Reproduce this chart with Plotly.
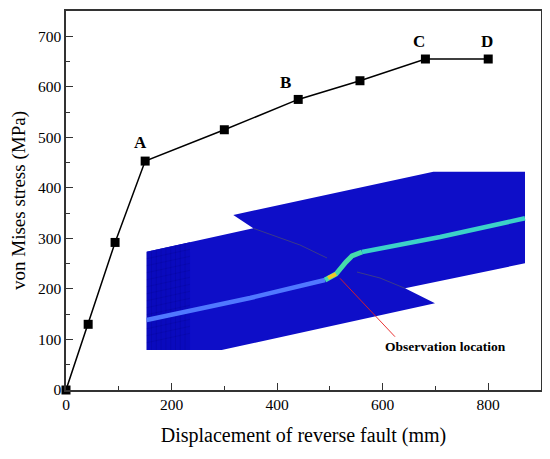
import plotly.graph_objects as go

# displacement (mm) vs von Mises stress (MPa)
displacement = [0, 42, 93, 150, 300, 440, 557, 681, 800]
stress = [0, 130, 292, 453, 515, 575, 612, 655, 655]

# labelled stages
stage_names = ["A", "B", "C", "D"]
stage_idx = [3, 5, 7, 8]
stage_shift = [(-5, 19), (-13, 17), (-6, 18), (-1, 18)]

xticks = [0, 200, 400, 600, 800]
yticks = [0, 100, 200, 300, 400, 500, 600, 700]

# page has an 8px body margin, so the figure is a bit smaller than the window
OFF = 8
W, H = 542, 451
L, T = 58, 3
PW, PH = 475, 379
R, B = W - L - PW, H - T - PH
SERIF = "Liberation Serif"


def px(x, y):
    # screen pixel -> paper coords, used for the inset drawing only
    return (x - OFF - L) / PW, (T + PH - (y - OFF)) / PH


def line_path(pts, close=False):
    s = ""
    for i, (x, y) in enumerate(pts):
        u, v = px(x, y)
        s += ("M" if i == 0 else "L") + f"{u:.4f},{v:.4f} "
    return s + ("Z" if close else "")


def deco(pts, color, width, close=False, fill=None, layer="below"):
    d = dict(type="path", path=line_path(pts, close), xref="paper", yref="paper",
             line=dict(color=color, width=width), layer=layer)
    if fill:
        d["fillcolor"] = fill
    return d


fig = go.Figure()

shapes = []
# inset: fault model outline (decoration)
block = [(146.7, 251.7), (253.3, 228.3), (233.3, 215), (433.3, 171.7), (525, 171.7),
         (525, 263.3), (405, 288.3), (435, 303.3), (221.7, 350), (146.7, 350)]
shapes.append(deco(block, "rgba(0,0,0,0)", 0, True, "rgb(14,14,200)"))
# front face of lower block, slightly darker
front = [(146.7, 251.7), (190, 242.3), (190, 350), (146.7, 350)]
shapes.append(deco(front, "rgba(0,0,0,0)", 0, True, "rgb(10,10,190)"))
for k in range(1, 9):
    x0 = 146.7 + k * 4.8
    shapes.append(deco([(x0, 251.7 - k * 1.04), (x0, 350)], "rgba(0,0,110,0.3)", 0.5))
for k in range(1, 14):
    yy = 251.7 + k * 7
    shapes.append(deco([(146.7, yy), (190, yy - 9.4)], "rgba(0,0,110,0.3)", 0.5))
# fault trace lines
shapes.append(deco([(253.3, 228.3), (300, 245), (327, 258)], "rgb(70,70,120)", 0.8))
shapes.append(deco([(357, 272), (380, 278), (405, 288.3)], "rgb(70,70,120)", 0.8))
# pipeline
shapes.append(deco([(146.7, 320), (250, 298), (325, 280)], "rgb(80,120,255)", 4.5))
shapes.append(deco([(325, 280), (336, 274), (346, 262), (352, 256), (362, 252)],
                   "rgb(70,220,170)", 5))
shapes.append(deco([(328, 278), (336, 274)], "rgb(240,200,40)", 4))
shapes.append(deco([(362, 252), (440, 237), (525, 218.3)], "rgb(60,210,200)", 4.5))
# pointer to observation location
shapes.append(deco([(340, 278.3), (395, 336.7)], "rgb(230,30,30)", 0.9, layer="above"))

fig.add_trace(go.Scatter(
    x=displacement, y=stress, mode="lines+markers",
    line=dict(color="black", width=1.5),
    marker=dict(symbol="square", size=9, color="black"),
    cliponaxis=False, showlegend=False))

annotations = []
for name, i, (dx, dy) in zip(stage_names, stage_idx, stage_shift):
    annotations.append(dict(x=displacement[i], y=stress[i], text=f"<b>{name}</b>",
                            showarrow=False, xshift=dx, yshift=dy,
                            font=dict(family=SERIF, size=17, color="black")))
u, v = px(445, 346)
annotations.append(dict(x=u, y=v, xref="paper", yref="paper", text="<b>Observation location</b>",
                        xanchor="center", yanchor="middle", showarrow=False,
                        font=dict(family=SERIF, size=13.5, color="black")))

fig.update_layout(
    width=W, height=H,
    margin=dict(l=L, r=R, t=T, b=B),
    plot_bgcolor="white", paper_bgcolor="white",
    font=dict(family=SERIF, size=15, color="black"),
    shapes=shapes, annotations=annotations,
    xaxis=dict(range=[0, 900], tickvals=xticks, showgrid=False, zeroline=False, automargin=False,
               showline=True, linecolor="#333", linewidth=1.5, mirror=True,
               ticks="inside", ticklen=7, tickwidth=1.2, tickcolor="#333",
               tickfont=dict(family=SERIF, size=15.5),
               minor=dict(ticks="inside", dtick=100, ticklen=4, tickwidth=1.2, tickcolor="#333"),
               title=dict(text="Displacement of reverse fault (mm)",
                          font=dict(family=SERIF, size=20), standoff=16)),
    yaxis=dict(range=[0, 750], tickvals=yticks, showgrid=False, zeroline=False, automargin=False,
               showline=True, linecolor="#333", linewidth=1.5, mirror=True,
               ticks="inside", ticklen=7, tickwidth=1.2, tickcolor="#333",
               tickfont=dict(family=SERIF, size=15.5),
               minor=dict(ticks="inside", dtick=50, ticklen=4, tickwidth=1.2, tickcolor="#333"),
               title=dict(text="von Mises stress (MPa)", font=dict(family=SERIF, size=19), standoff=8)),
)

fig.write_html("out.html")
